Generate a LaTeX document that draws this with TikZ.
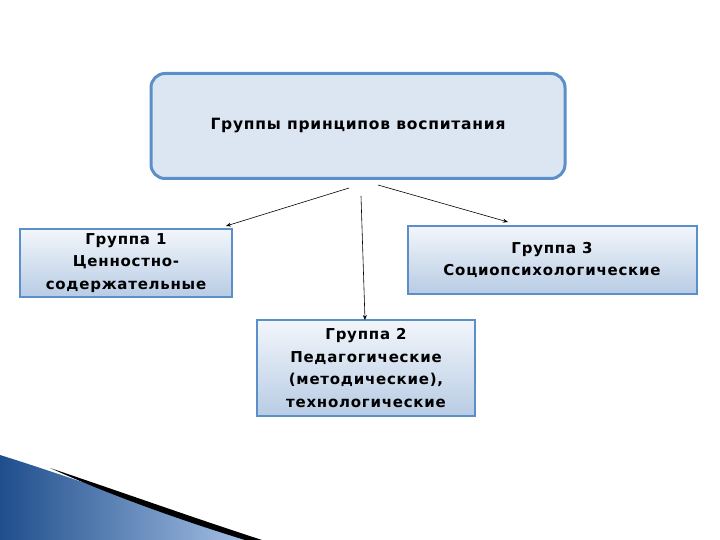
\documentclass[tikz,border=0pt]{standalone}
\usepackage{fontspec}
\setmainfont{DejaVu Sans}
\newfontfamily\boxfont[LetterSpace=5]{DejaVu Sans}
\usetikzlibrary{arrows.meta}
\definecolor{bord}{HTML}{5B8FC9}
\definecolor{fillA}{HTML}{DCE6F2}
\definecolor{gtop}{HTML}{F2F6FB}
\definecolor{gbot}{HTML}{B8CCE4}
\definecolor{swA}{HTML}{1F4E8C}
\definecolor{swB}{HTML}{A9C4E8}
\tikzset{
  gbox/.style={draw=bord, line width=2pt, top color=gtop, bottom color=gbot, align=center, font=\boxfont\bfseries\fontsize{15}{22.5}\selectfont, inner sep=0pt},
  conn/.style={draw=black, line width=0.6pt, -{Stealth[length=5pt,width=4pt]}}
}
\begin{document}
\begin{tikzpicture}[x=1pt,y=-1pt]
\useasboundingbox (0,0) rectangle (720,540);
% decorative swoosh
\shade[left color=swA, right color=swB] (0,455) .. controls (80,480) and (160,510) .. (255,540) -- (0,540) -- cycle;
\fill[black] (50,468) .. controls (130,495) and (200,520) .. (262,540) -- (245,540) .. controls (180,520) and (110,495) .. (50,468) -- cycle;
\node[draw=bord, line width=3pt, fill=fillA, rounded corners=14pt, minimum width=414pt, minimum height=105pt, font=\boxfont\bfseries\fontsize{15.5}{18}\selectfont] (top) at (358,126) {Группы принципов воспитания};
\node[gbox, minimum width=212pt, minimum height=67pt] (g1) at (126,263) {Группа 1\\Ценностно-\\содержательные};
\node[gbox, minimum width=289pt, minimum height=67pt] (g3) at (552,260) {Группа 3\\Социопсихологические};
\node[gbox, minimum width=218pt, minimum height=96pt] (g2) at (366,368) {Группа 2\\Педагогические\\(методические),\\технологические};
\coordinate (s1) at (349,188);
\coordinate (s2) at (361,196);
\coordinate (s3) at (378,185);
\draw[conn] (s1) -- (226,226);
\draw[conn] (s2) -- (365,320);
\draw[conn] (s3) -- (508,222);
\end{tikzpicture}
\end{document}
